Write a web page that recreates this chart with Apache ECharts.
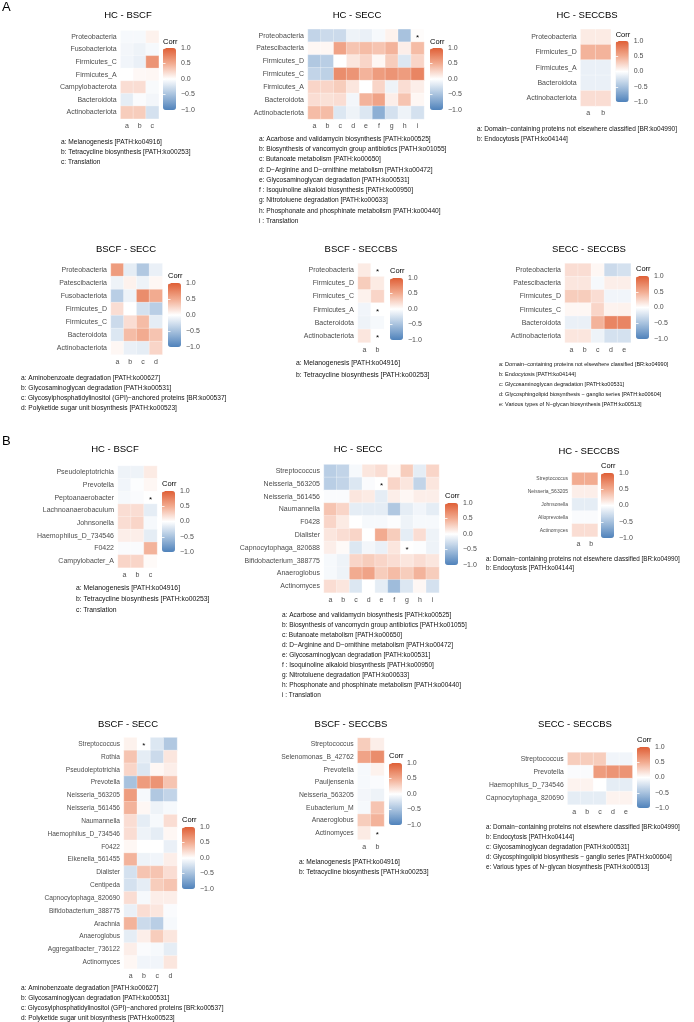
<!DOCTYPE html>
<html lang="en">
<head>
  <meta charset="UTF-8">
  <title>Correlation heatmaps</title>
  <style>
    body { margin: 0; background: #fff; }
    #chart { width: 694px; height: 1022px; }
  </style>
  <script src="https://cdn.jsdelivr.net/npm/echarts@6/dist/echarts.min.js"></script>
</head>
<body>
  <div id="chart"></div>
  <script>
    // ---------- A ----------
    const aHcBscfRows = ['Proteobacteria','Fusobacteriota','Firmicutes_C','Firmicutes_A','Campylobacterota','Bacteroidota','Actinobacteriota'];
    const aHcBscfVals = [
      [-0.05,-0.05,0.08],[-0.07,-0.1,-0.05],[-0.08,-0.12,0.65],[0.0,0.04,0.05],
      [0.2,0.2,-0.04],[-0.15,-0.03,-0.07],[0.3,0.3,-0.25]];
    const aHcBscfStars = [];
    const aHcBscfNotes = ['a: Melanogenesis [PATH:ko04916]','b: Tetracycline biosynthesis [PATH:ko00253]','c: Translation'];

    const aHcSeccRows = ['Proteobacteria','Patescibacteria','Firmicutes_D','Firmicutes_C','Firmicutes_A','Bacteroidota','Actinobacteriota'];
    const aHcSeccVals = [
      [-0.35,-0.3,-0.3,-0.1,-0.12,-0.05,0.08,-0.5,0.02],
      [0.05,0.05,0.55,0.35,0.4,0.35,0.45,0.1,0.4],
      [-0.45,-0.4,0.0,0.15,0.25,0.05,0.3,-0.2,0.25],
      [-0.35,-0.38,0.7,0.65,0.45,0.6,0.65,0.6,0.75],
      [0.25,0.25,0.3,0.15,0.0,0.25,-0.1,0.2,0.1],
      [0.2,0.18,0.2,-0.07,0.45,0.55,0.1,0.35,0.05],
      [0.4,0.4,-0.2,-0.1,-0.2,-0.65,-0.25,-0.1,-0.25]];
    const aHcSeccStars = [[8,0]];
    const aHcSeccNotes = ['a: Acarbose and validamycin biosynthesis [PATH:ko00525]','b: Biosynthesis of vancomycin group antibiotics [PATH:ko01055]',
      'c: Butanoate metabolism [PATH:ko00650]','d: D\u2212Arginine and D\u2212ornithine metabolism [PATH:ko00472]',
      'e: Glycosaminoglycan degradation [PATH:ko00531]','f : Isoquinoline alkaloid biosynthesis [PATH:ko00950]',
      'g: Nitrotoluene degradation [PATH:ko00633]','h: Phosphonate and phosphinate metabolism [PATH:ko00440]','i : Translation'];

    const aHcSeccbsRows = ['Proteobacteria','Firmicutes_D','Firmicutes_A','Bacteroidota','Actinobacteriota'];
    const aHcSeccbsVals = [[0.12,0.12],[0.45,0.45],[-0.12,-0.12],[-0.12,-0.12],[0.2,0.2]];
    const aHcSeccbsStars = [];
    const aHcSeccbsNotes = ['a: Domain\u2212containing proteins not elsewhere classified [BR:ko04990]','b: Endocytosis [PATH:ko04144]'];

    const aBscfSeccRows = ['Proteobacteria','Patescibacteria','Fusobacteriota','Firmicutes_D','Firmicutes_C','Bacteroidota','Actinobacteriota'];
    const aBscfSeccVals = [
      [0.6,-0.15,-0.45,-0.12],[-0.1,0.08,-0.1,0.05],[-0.4,-0.1,0.7,0.5],[0.2,0.0,-0.25,-0.4],
      [-0.3,0.2,0.4,-0.15],[-0.2,0.4,0.5,0.35],[0.05,-0.12,-0.15,0.25]];
    const aBscfSeccStars = [];
    const aBscfSeccNotes = ['a: Aminobenzoate degradation [PATH:ko00627]','b: Glycosaminoglycan degradation [PATH:ko00531]',
      'c: Glycosylphosphatidylinositol (GPI)\u2212anchored proteins [BR:ko00537]','d: Polyketide sugar unit biosynthesis [PATH:ko00523]'];

    const aBscfSeccbsRows = ['Proteobacteria','Firmicutes_D','Firmicutes_C','Firmicutes_A','Bacteroidota','Actinobacteriota'];
    const aBscfSeccbsVals = [[0.12,0.0],[0.3,0.12],[0.08,0.25],[-0.08,0.0],[-0.1,-0.05],[0.15,0.0]];
    const aBscfSeccbsStars = [[1,0],[1,3],[1,5]];
    const aBscfSeccbsNotes = ['a: Melanogenesis [PATH:ko04916]','b: Tetracycline biosynthesis [PATH:ko00253]'];

    const aSeccSeccbsRows = ['Proteobacteria','Patescibacteria','Firmicutes_D','Firmicutes_C','Bacteroidota','Actinobacteriota'];
    const aSeccSeccbsVals = [
      [0.2,0.2,0.05,-0.3,-0.25],[0.15,0.15,-0.05,0.1,0.1],[0.3,0.3,0.2,-0.08,-0.08],
      [0.05,0.05,0.25,0.07,0.08],[-0.12,-0.12,0.45,0.75,0.75],[0.15,0.15,-0.1,-0.25,-0.25]];
    const aSeccSeccbsStars = [];
    const aSeccSeccbsNotes = ['a: Domain\u2212containing proteins not elsewhere classified [BR:ko04990]','b: Endocytosis [PATH:ko04144]',
      'c: Glycosaminoglycan degradation [PATH:ko00531]','d: Glycosphingolipid biosynthesis \u2212 ganglio series [PATH:ko00604]',
      'e: Various types of N\u2212glycan biosynthesis [PATH:ko00513]'];

    // ---------- B ----------
    const bHcBscfRows = ['Pseudoleptotrichia','Prevotella','Peptoanaerobacter','Lachnoanaerobaculum','Johnsonella','Haemophilus_D_734546','F0422','Campylobacter_A'];
    const bHcBscfVals = [
      [-0.1,-0.1,0.12],[-0.08,-0.02,0.05],[-0.05,-0.03,0.0],[0.2,0.2,-0.15],
      [0.2,0.25,-0.05],[0.1,0.1,-0.15],[-0.03,-0.03,0.45],[0.25,0.25,0.03]];
    const bHcBscfStars = [[2,2]];
    const bHcBscfNotes = aHcBscfNotes;

    const bHcSeccRows = ['Streptococcus','Neisseria_563205','Neisseria_561456','Naumannella','F0428','Dialister','Capnocytophaga_820688','Bifidobacterium_388775','Anaeroglobus','Actinomyces'];
    const bHcSeccVals = [
      [-0.4,-0.35,-0.05,0.15,0.2,0.05,0.3,-0.15,0.25],
      [-0.4,-0.35,-0.2,-0.03,0.0,0.25,0.15,-0.35,0.15],
      [-0.03,-0.03,0.15,0.12,-0.15,0.1,0.05,0.1,0.1],
      [0.35,0.25,-0.15,-0.15,-0.15,-0.45,-0.15,-0.08,-0.15],
      [0.25,0.12,0.0,-0.05,-0.05,-0.02,-0.1,-0.05,-0.05],
      [0.15,0.2,0.25,0.0,0.5,0.3,-0.15,0.2,-0.1],
      [0.1,0.03,-0.2,-0.07,-0.12,0.15,0.0,-0.02,-0.1],
      [-0.05,-0.1,0.25,0.3,0.25,0.2,0.15,0.2,0.15],
      [-0.05,-0.1,0.5,0.55,0.3,0.4,0.3,0.45,0.3],
      [0.2,0.15,-0.2,0.0,-0.15,-0.55,-0.2,0.05,-0.25]];
    const bHcSeccStars = [[4,1],[6,6]];
    const bHcSeccNotes = aHcSeccNotes;

    const bHcSeccbsRows = ['Streptococcus','Neisseria_563205','Johnsonella','Alloprevotella','Actinomyces'];
    const bHcSeccbsVals = [[0.5,0.5],[0.1,0.1],[-0.15,-0.15],[-0.03,-0.03],[0.2,0.2]];
    const bHcSeccbsStars = [];
    const bHcSeccbsNotes = aHcSeccbsNotes;

    const bBscfSeccRows = ['Streptococcus','Rothia','Pseudoleptotrichia','Prevotella','Neisseria_563205','Neisseria_561456','Naumannella',
      'Haemophilus_D_734546','F0422','Eikenella_561455','Dialister','Centipeda','Capnocytophaga_820690','Bifidobacterium_388775',
      'Arachnia','Anaeroglobus','Aggregatibacter_736122','Actinomyces'];
    const bBscfSeccVals = [
      [0.08,0.0,-0.2,-0.45],[0.35,-0.15,-0.3,0.15],[0.25,-0.2,0.05,0.1],[-0.5,0.6,0.65,0.35],
      [0.6,-0.05,-0.45,-0.35],[0.45,0.05,-0.1,-0.05],[0.2,-0.15,-0.05,0.2],[0.2,-0.1,-0.15,0.05],
      [0.05,0.0,0.0,-0.12],[0.45,-0.1,-0.08,0.1],[-0.25,0.35,0.35,0.2],[-0.25,-0.15,0.3,0.35],
      [0.2,-0.05,0.1,0.1],[-0.12,0.2,0.15,-0.03],[0.45,-0.3,-0.4,-0.05],[-0.15,0.1,0.3,0.15],
      [0.1,-0.03,-0.05,-0.15],[0.05,-0.08,-0.08,0.15]];
    const bBscfSeccStars = [[1,0]];
    const bBscfSeccNotes = aBscfSeccNotes;

    const bBscfSeccbsRows = ['Streptococcus','Selenomonas_B_42762','Prevotella','Pauljensenia','Neisseria_563205','Eubacterium_M','Anaeroglobus','Actinomyces'];
    const bBscfSeccbsVals = [[0.3,0.1],[0.55,0.7],[-0.05,0.08],[-0.05,-0.03],[-0.07,-0.1],[-0.05,0.35],[0.3,0.45],[0.12,0.0]];
    const bBscfSeccbsStars = [[1,7]];
    const bBscfSeccbsNotes = aBscfSeccbsNotes;

    const bSeccSeccbsRows = ['Streptococcus','Prevotella','Haemophilus_D_734546','Capnocytophaga_820690'];
    const bSeccSeccbsVals = [[0.3,0.3,0.3,-0.08,-0.08],[-0.03,-0.03,0.6,0.65,0.65],[0.07,0.07,0.0,-0.15,-0.15],[-0.15,-0.15,-0.15,0.07,0.07]];
    const bSeccSeccbsStars = [];
    const bSeccSeccbsNotes = aSeccSeccbsNotes;

    const corrTicks = [-1, -0.5, 0, 0.5, 1];

    const panels = [
      {title:'HC - BSCF', rows:aHcBscfRows, vals:aHcBscfVals, stars:aHcBscfStars, notes:aHcBscfNotes},
      {title:'HC - SECC', rows:aHcSeccRows, vals:aHcSeccVals, stars:aHcSeccStars, notes:aHcSeccNotes},
      {title:'HC - SECCBS', rows:aHcSeccbsRows, vals:aHcSeccbsVals, stars:aHcSeccbsStars, notes:aHcSeccbsNotes},
      {title:'BSCF - SECC', rows:aBscfSeccRows, vals:aBscfSeccVals, stars:aBscfSeccStars, notes:aBscfSeccNotes},
      {title:'BSCF - SECCBS', rows:aBscfSeccbsRows, vals:aBscfSeccbsVals, stars:aBscfSeccbsStars, notes:aBscfSeccbsNotes},
      {title:'SECC - SECCBS', rows:aSeccSeccbsRows, vals:aSeccSeccbsVals, stars:aSeccSeccbsStars, notes:aSeccSeccbsNotes},
      {title:'HC - BSCF', rows:bHcBscfRows, vals:bHcBscfVals, stars:bHcBscfStars, notes:bHcBscfNotes},
      {title:'HC - SECC', rows:bHcSeccRows, vals:bHcSeccVals, stars:bHcSeccStars, notes:bHcSeccNotes},
      {title:'HC - SECCBS', rows:bHcSeccbsRows, vals:bHcSeccbsVals, stars:bHcSeccbsStars, notes:bHcSeccbsNotes},
      {title:'BSCF - SECC', rows:bBscfSeccRows, vals:bBscfSeccVals, stars:bBscfSeccStars, notes:bBscfSeccNotes},
      {title:'BSCF - SECCBS', rows:bBscfSeccbsRows, vals:bBscfSeccbsVals, stars:bBscfSeccbsStars, notes:bBscfSeccbsNotes},
      {title:'SECC - SECCBS', rows:bSeccSeccbsRows, vals:bSeccSeccbsVals, stars:bSeccSeccbsStars, notes:bSeccSeccbsNotes}
    ];

    // where each panel sits (px): title centre, cell box, colour bar, "Corr", notes
    const layout = [
      {tx:128, ty:15,  box:[120.7,30.7,38,88],   bar:[163,48,62],   cy:42,  nx:61,  ny:141.7, nl:10.3, fs:7,   nfs:6.6},
      {tx:357, ty:15,  box:[308,29.3,116,89.7],  bar:[430,48,62],   cy:42,  nx:259, ny:139,   nl:10.25,fs:7,   nfs:6.6},
      {tx:587, ty:15,  box:[580.7,29.3,30,76.7], bar:[615.7,41,61], cy:35,  nx:477, ny:129,   nl:10,   fs:7,   nfs:6.5},
      {tx:126, ty:249, box:[111,263.5,51.3,91],  bar:[168,283,64],  cy:276, nx:21,  ny:378,   nl:10,   fs:7,   nfs:6.6},
      {tx:361, ty:249, box:[358,263.5,26,79],    bar:[390,278,62],  cy:271, nx:296, ny:363.3, nl:11.5, fs:7,   nfs:6.8},
      {tx:589, ty:249, box:[565,263.5,65.7,79],  bar:[636,276,63],  cy:269, nx:499, ny:364,   nl:10.2, fs:7,   nfs:5.5},
      {tx:115, ty:449, box:[118,466,39,101.6],   bar:[162,491,61],  cy:484, nx:76,  ny:588,   nl:11,   fs:7,   nfs:6.8},
      {tx:358, ty:449, box:[324,464.6,115,128],  bar:[445,503,62],  cy:496, nx:282, ny:615.7, nl:10,   fs:7,   nfs:6.5},
      {tx:589, ty:451, box:[572,472.6,25.6,64],  bar:[601,473,65],  cy:466, nx:486, ny:559,   nl:9.3,  fs:5,   nfs:6.3},
      {tx:128, ty:724, box:[124,737.6,53,231],   bar:[182,827,62],  cy:820, nx:21,  ny:988,   nl:10,   fs:6.6, nfs:6.5},
      {tx:351, ty:724, box:[357.7,738,26.3,101.5],bar:[389,763,62], cy:756, nx:299, ny:862,   nl:10,   fs:6.8, nfs:6.6},
      {tx:575, ty:724, box:[567.7,752.5,64.6,52],bar:[637,747,61],  cy:740, nx:486, ny:827,   nl:10,   fs:6.8, nfs:6.3}
    ];

    const FONT = '"Liberation Sans", Arial, Helvetica, sans-serif';
    const AXIS_GREY = '#4d4d4d';
    const COLORS = ['#4f82bb', '#a8c2de', '#ffffff', '#f2ab90', '#df5f36'];

    function fmtTick(v) {
      return (v < 0 ? '\u2212' : '') + Math.abs(v).toFixed(1);
    }

    const titles = [
      {text:'A', left:2, top:1, padding:0, textStyle:{fontSize:13, fontWeight:'normal', color:'#000', fontFamily:FONT}},
      {text:'B', left:2, top:435, padding:0, textStyle:{fontSize:13, fontWeight:'normal', color:'#000', fontFamily:FONT}}
    ];
    const grids = [], xAxes = [], yAxes = [], series = [], visualMaps = [];

    panels.forEach(function(p, i) {
      const L = layout[i];
      const cols = 'abcdefghi'.slice(0, p.vals[0].length).split('');
      const starSet = new Set(p.stars.map(function(s) { return s[0] + ',' + s[1]; }));
      const data = [];
      p.vals.forEach(function(row, r) {
        row.forEach(function(v, c) { data.push([c, r, v]); });
      });

      titles.push({text:p.title, left:L.tx, top:L.ty - 6, textAlign:'center', padding:0,
        textStyle:{fontSize:9.5, lineHeight:12, fontWeight:'normal', color:'#000', fontFamily:FONT}});
      titles.push({text:'Corr', left:L.bar[0], top:L.cy - 5, padding:0,
        textStyle:{fontSize:7.5, lineHeight:10, fontWeight:'normal', color:'#000', fontFamily:FONT}});
      titles.push({text:p.notes.join('\n'), left:L.nx, top:L.ny - L.nl / 2, padding:0,
        textStyle:{fontSize:L.nfs, lineHeight:L.nl, fontWeight:'normal', color:'#111', fontFamily:FONT}});

      // heatmap grid
      grids.push({left:L.box[0], top:L.box[1], width:L.box[2], height:L.box[3]});
      xAxes.push({gridIndex:i, type:'category', data:cols, axisLine:{show:false}, axisTick:{show:false},
        axisLabel:{fontSize:7, color:AXIS_GREY, margin:4, fontFamily:FONT}, splitArea:{show:false}});
      yAxes.push({gridIndex:i, type:'category', data:p.rows, inverse:true, axisLine:{show:false}, axisTick:{show:false},
        axisLabel:{fontSize:L.fs, color:AXIS_GREY, margin:4, fontFamily:FONT}, splitArea:{show:false}});
      series.push({type:'heatmap', xAxisIndex:i, yAxisIndex:i, data:data, progressive:0,
        itemStyle:{borderColor:'rgba(255,255,255,0.6)', borderWidth:0.5},
        emphasis:{disabled:true},
        label:{show:true, fontSize:8, color:'#000', offset:[0, 2], fontFamily:FONT,
          formatter:function(q) { return starSet.has(q.data[0] + ',' + q.data[1]) ? '*' : ''; }}});
      visualMaps.push({type:'continuous', seriesIndex:i, min:-1, max:1, left:L.bar[0], top:L.bar[1],
        itemWidth:13, itemHeight:L.bar[2], calculable:false, hoverLink:false, padding:0, text:null,
        inRange:{color:COLORS}});
    });

    // colour-bar tick axes
    panels.forEach(function(p, i) {
      const L = layout[i];
      const g = grids.length;
      grids.push({left:L.bar[0], top:L.bar[1], width:13, height:L.bar[2]});
      xAxes.push({gridIndex:g, type:'value', show:false, min:0, max:1});
      yAxes.push({gridIndex:g, type:'value', position:'right', min:corrTicks[0], max:corrTicks[corrTicks.length - 1], interval:0.5, z:10,
        axisLine:{show:false}, splitLine:{show:false},
        axisTick:{show:true, inside:true, length:2.5, lineStyle:{color:'#fff', width:0.8}},
        axisLabel:{fontSize:7, color:AXIS_GREY, margin:5, fontFamily:FONT, formatter:fmtTick}});
      yAxes.push({gridIndex:g, type:'value', position:'left', min:-1, max:1, interval:0.5, z:10,
        axisLine:{show:false}, splitLine:{show:false}, axisLabel:{show:false},
        axisTick:{show:true, inside:true, length:2.5, lineStyle:{color:'#fff', width:0.8}}});
    });

    const chart = echarts.init(document.getElementById('chart'));
    chart.setOption({
      animation:false,
      title:titles,
      grid:grids,
      xAxis:xAxes,
      yAxis:yAxes,
      visualMap:visualMaps,
      series:series
    });
  </script>
</body>
</html>
